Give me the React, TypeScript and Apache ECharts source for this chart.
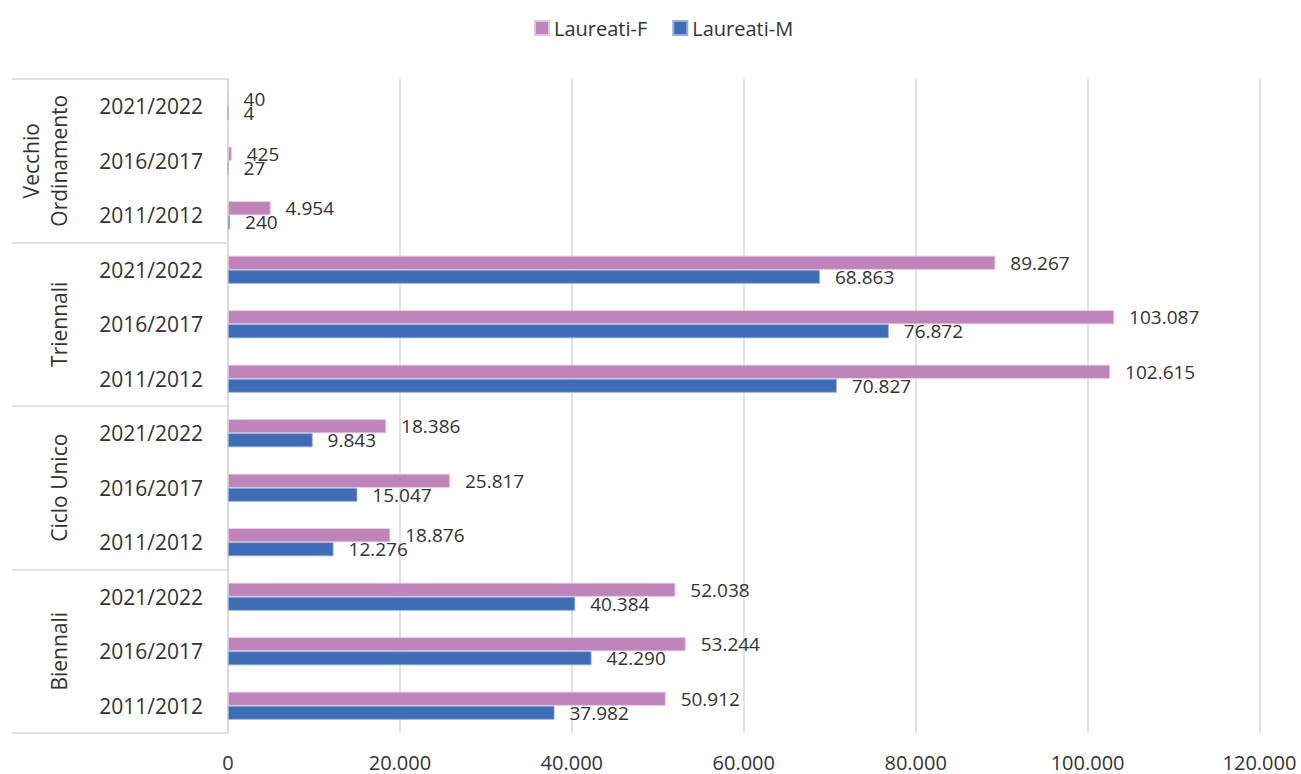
import React, { useEffect, useRef } from "react";
import * as echarts from "echarts";

const years = ["2011/2012", "2016/2017", "2021/2022"];
const groups = ["Biennali", "Ciclo Unico", "Triennali", "Vecchio\nOrdinamento"];
const categories = groups.flatMap((g) => years.map((y) => y));
// values listed bottom -> top: Biennali, Ciclo Unico, Triennali, Vecchio Ordinamento (2011, 2016, 2021)
const laureatiF = [50912, 53244, 52038, 18876, 25817, 18386, 102615, 103087, 89267, 4954, 425, 40];
const laureatiM = [37982, 42290, 40384, 12276, 15047, 9843, 70827, 76872, 68863, 240, 27, 4];
const xTicks = { min: 0, max: 120000, interval: 20000 };

const FONT = "'Open Sans', 'Noto Sans', sans-serif";
const TEXT = "#333333";
const LINE = "#d9d9d9";

const fmt = (v: number) => String(Math.round(v)).replace(/\B(?=(\d{3})+(?!\d))/g, ".");

export default function App() {
  const ref = useRef<HTMLDivElement>(null);
  useEffect(() => {
    if (!ref.current) return;
    const chart = echarts.init(ref.current, undefined, { renderer: "svg" });
    const label = {
      show: true,
      position: "right" as const,
      distance: 15,
      fontFamily: FONT,
      fontSize: 19,
      color: TEXT,
      formatter: (p: any) => fmt(p.value),
    };
    chart.setOption({
      animation: false,
      backgroundColor: "#ffffff",
      legend: {
        data: ["Laureati-F", "Laureati-M"],
        left: 534,
        top: 18,
        padding: 0,
        icon: "rect",
        itemWidth: 14,
        itemHeight: 14,
        itemGap: 25,
        textStyle: { fontFamily: FONT, fontSize: 20, color: TEXT },
      },
      grid: {
        left: 228,
        right: 41.5,
        top: 79,
        bottom: 41,
        containLabel: false,
        outerBoundsMode: "none",
      },
      xAxis: {
        type: "value",
        min: xTicks.min,
        max: xTicks.max,
        interval: xTicks.interval,
        axisLine: { show: false },
        axisTick: { show: false },
        splitLine: { show: true, lineStyle: { color: LINE, width: 1.5 } },
        axisLabel: {
          fontFamily: FONT,
          fontSize: 20,
          color: TEXT,
          margin: 19,
          formatter: (v: number) => fmt(v),
        },
      },
      yAxis: [
        {
          type: "category",
          data: categories,
          position: "left",
          axisLine: { show: true, lineStyle: { color: LINE, width: 1.5 } },
          axisTick: { show: false },
          axisLabel: {
            interval: 0,
            fontFamily: FONT,
            fontSize: 21,
            color: TEXT,
            margin: 25,
          },
        },
        {
          type: "category",
          data: groups,
          position: "left",
          axisLine: { show: false },
          axisTick: { show: true, length: 216, lineStyle: { color: LINE, width: 1.5 } },
          axisLabel: {
            interval: 0,
            rotate: 90,
            fontFamily: FONT,
            fontSize: 21,
            lineHeight: 28,
            color: TEXT,
            margin: 155,
          },
        },
      ],
      series: [
        {
          name: "Laureati-F",
          type: "bar",
          yAxisIndex: 0,
          data: laureatiF,
          barWidth: 14,
          barGap: "0%",
          itemStyle: { color: "#bf85ba", borderColor: "#e3c6e0", borderWidth: 0.8 },
          label,
        },
        {
          name: "Laureati-M",
          type: "bar",
          yAxisIndex: 0,
          data: laureatiM,
          barWidth: 14,
          barGap: "0%",
          itemStyle: { color: "#3e6db5", borderColor: "#8fb0e0", borderWidth: 0.8 },
          label,
        },
      ],
    });
    return () => chart.dispose();
  }, []);
  return (
    <div
      ref={ref}
      style={{ position: "fixed", left: 0, top: 0, width: 1301, height: 774, background: "#fff" }}
    />
  );
}
